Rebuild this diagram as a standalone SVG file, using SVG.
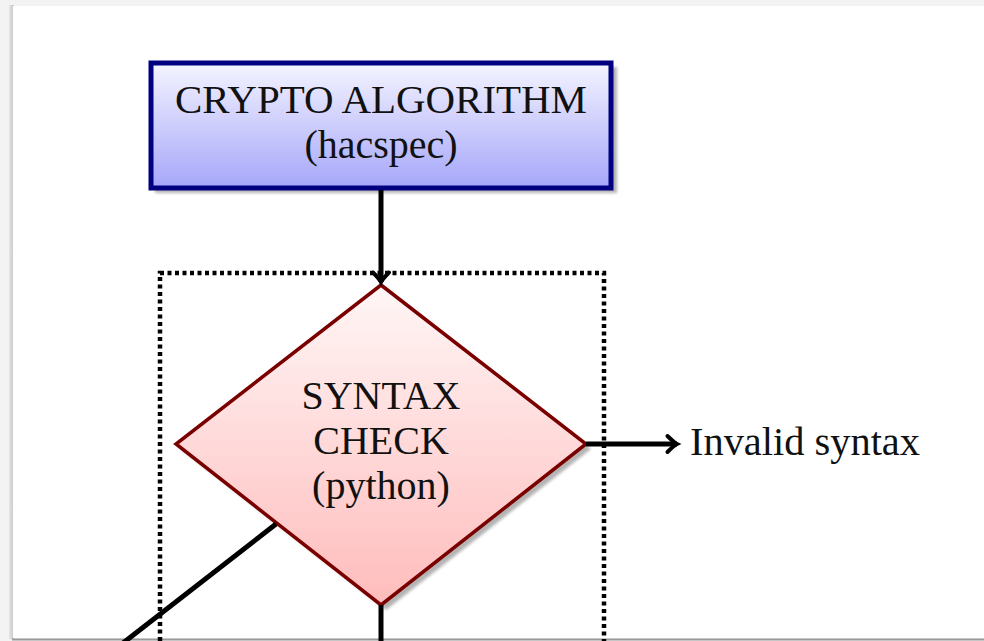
<svg xmlns="http://www.w3.org/2000/svg" width="984" height="641" viewBox="0 0 984 641">
  <defs>
    <linearGradient id="blueFill" x1="0" y1="0" x2="0" y2="1">
      <stop offset="0" stop-color="#f4f4ff"/>
      <stop offset="1" stop-color="#a6a6fa"/>
    </linearGradient>
    <linearGradient id="redFill" x1="0" y1="0" x2="0" y2="1">
      <stop offset="0" stop-color="#fff6f6"/>
      <stop offset="1" stop-color="#ffbcbc"/>
    </linearGradient>
    <filter id="soft" x="-10%" y="-10%" width="120%" height="120%">
      <feGaussianBlur stdDeviation="1.5"/>
    </filter>
    <linearGradient id="pageEdge" x1="0" y1="0" x2="1" y2="0">
      <stop offset="0" stop-color="#e6e6e6"/>
      <stop offset="1" stop-color="#c4c4c4"/>
    </linearGradient>
    <marker id="tip" markerUnits="userSpaceOnUse" markerWidth="26" markerHeight="26" viewBox="-13 -13 26 26" refX="0" refY="0" orient="auto">
      <path d="M-9.5,-8 Q-3,-1.5 0,0 Q-3,1.5 -9.5,8" fill="none" stroke="#000" stroke-width="4" stroke-linecap="round"/>
    </marker>
  </defs>
  <style>
    .label { font-family: "Liberation Serif", "DejaVu Serif", serif; font-size: 40px; fill: #111; text-anchor: middle; }
    .side { font-family: "Liberation Serif", "DejaVu Serif", serif; font-size: 40px; fill: #111; }
    .conn { stroke: #000; stroke-width: 5; fill: none; }
    .frame { stroke: #000; stroke-width: 4.5; fill: none; stroke-dasharray: 4 3.5; }
    .shadow { fill: #b4b4b4; filter: url(#soft); }
  </style>

  <!-- page backdrop -->
  <rect x="0" y="0" width="984" height="641" fill="#f3f3f3"/>
  <rect x="9" y="5" width="5" height="634" fill="url(#pageEdge)"/>
  <rect x="13" y="6" width="971" height="632" fill="#ffffff"/>
  <line x1="12" y1="639.5" x2="984" y2="639.5" stroke="#9a9a9a" stroke-width="2"/>

  <!-- dotted grouping frame -->
  <g id="check-frame">
    <rect class="frame" x="160" y="273" width="444" height="400"/>
  </g>

  <!-- source node -->
  <g id="crypto-algorithm">
    <rect class="shadow" x="155" y="67" width="462" height="126"/>
    <rect x="151" y="63" width="460" height="125" fill="url(#blueFill)" stroke="#000080" stroke-width="5"/>
    <text class="label" x="381" y="113" textLength="412" lengthAdjust="spacingAndGlyphs">CRYPTO ALGORITHM</text>
    <text class="label" x="381" y="158">(hacspec)</text>
  </g>

  <!-- decision node -->
  <g id="syntax-check">
    <polygon class="shadow" points="386,290 591,449 386,610 181,449"/>
    <polygon points="381,285 586,444 381,605 176,444" fill="url(#redFill)" stroke="#7a0000" stroke-width="3.5" stroke-linejoin="miter"/>
    <text class="label" x="381" y="409">SYNTAX</text>
    <text class="label" x="381" y="454">CHECK</text>
    <text class="label" x="381" y="499">(python)</text>
  </g>

  <!-- result label -->
  <g id="invalid-syntax">
    <text class="side" x="690" y="455" textLength="230" lengthAdjust="spacingAndGlyphs">Invalid syntax</text>
  </g>

  <!-- connectors -->
  <g id="connectors">
    <line class="conn" x1="381" y1="190" x2="381" y2="282" marker-end="url(#tip)"/>
    <line class="conn" x1="586" y1="444" x2="677" y2="444" marker-end="url(#tip)"/>
    <line class="conn" x1="276" y1="524" x2="123" y2="643"/>
    <line class="conn" x1="381" y1="605" x2="381" y2="641"/>
  </g>
</svg>
